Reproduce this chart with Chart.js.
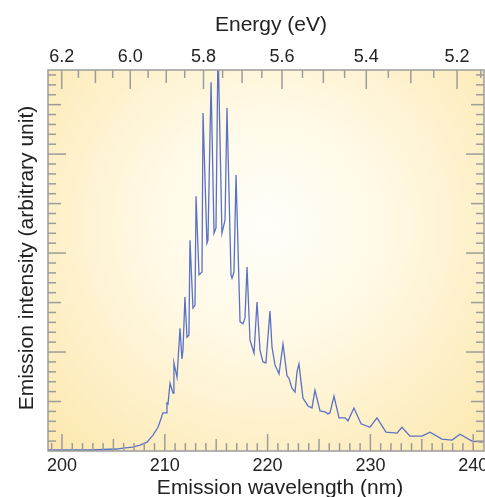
<!DOCTYPE html>
<html>
<head>
<meta charset="utf-8">
<script src="https://cdn.jsdelivr.net/npm/chart.js@4.4.0/dist/chart.umd.min.js"></script>
<style>
  html, body { margin: 0; padding: 0; background: #fff; }
</style>
</head>
<body>
<canvas id="emissionChart" width="485" height="497"></canvas>
<script>
// emission spectrum (nm, arbitrary units)
const wavelengths = [
  198.6, 200.0, 202.7, 205.35, 205.93, 206.9, 207.6, 208.27, 208.85, 209.34,
  209.53, 209.82, 210.12, 210.21, 210.31, 210.51, 210.8, 210.89, 211.19, 211.48,
  211.67, 211.77, 211.96, 212.16, 212.35, 212.45, 212.74, 212.94, 213.04, 213.33,
  213.62, 213.72, 214.1, 214.2, 214.5, 214.79, 214.98, 215.18, 215.56, 215.86,
  216.05, 216.44, 216.54, 216.73, 216.93, 217.32, 217.61, 217.8, 218.0, 218.29,
  218.68, 218.97, 219.26, 219.55, 219.84, 220.23, 220.43, 220.72, 221.11, 221.5,
  221.89, 222.08, 222.37, 222.67, 222.86, 223.05, 223.44, 223.93, 224.32, 224.61,
  225.1, 225.58, 225.88, 226.07, 226.46, 226.95, 227.53, 227.82, 228.4, 229.09,
  229.96, 230.64, 231.52, 232.59, 233.07, 233.85, 235.02, 235.8, 236.96, 237.94,
  238.72, 239.88, 240.95
];
const intensities = [
  0.02, 0.02, 0.02, 0.04, 0.06, 0.08, 0.12, 0.18, 0.32, 0.48,
  0.59, 0.77, 0.77, 0.97, 0.95, 1.37, 1.17, 1.78, 1.49, 2.48,
  1.86, 2.04, 3.11, 2.30, 2.34, 4.26, 2.89, 2.95, 5.15, 3.56,
  3.62, 6.83, 4.20, 4.26, 7.45, 4.40, 4.51, 8.20, 4.40, 4.67,
  6.93, 3.56, 3.49, 3.62, 5.58, 2.61, 2.57, 2.69, 3.72, 2.24,
  1.98, 3.01, 2.04, 1.80, 1.78, 2.83, 2.10, 1.74, 1.56, 2.16,
  1.52, 1.47, 1.27, 1.19, 1.60, 1.76, 1.07, 0.91, 0.87, 1.23,
  0.81, 0.79, 0.75, 0.77, 1.11, 0.67, 0.67, 0.61, 0.87, 0.55,
  0.48, 0.67, 0.38, 0.36, 0.48, 0.30, 0.30, 0.38, 0.24, 0.22,
  0.34, 0.20, 0.18
];
const wavelengthTicks = [200, 210, 220, 230, 240];
const energyTicks = [6.2, 6.0, 5.8, 5.6, 5.4, 5.2];

const HC = 1239.84; // eV*nm
const FONT = '"Liberation Sans", Arial, Helvetica, sans-serif';
const GREY = "#9c9c9c";

const points = wavelengths.map((w, i) => ({ x: w, y: intensities[i] }));

const backdrop = {
  id: "backdrop",
  beforeDraw(chart) {
    const { ctx, chartArea: a } = chart;
    ctx.save();
    ctx.fillStyle = "#fff";
    ctx.fillRect(0, 0, chart.width, chart.height);
    const g = ctx.createRadialGradient(268, 225, 0, 268, 225, 320);
    g.addColorStop(0, "#fffefa");
    g.addColorStop(0.35, "#fff9e6");
    g.addColorStop(1, "#fce7ab");
    ctx.fillStyle = g;
    ctx.fillRect(a.left, a.top, a.right - a.left, a.bottom - a.top);
    ctx.restore();
  },
};

// frame with inward ticks on all four sides, plus labels and titles
const frame = {
  id: "frame",
  afterDatasetsDraw(chart) {
    const { ctx, chartArea: a, scales } = chart;
    const xs = scales.x, ys = scales.y;
    ctx.save();
    ctx.strokeStyle = GREY;
    ctx.lineWidth = 1.5;

    const vtick = (px, y0, len) => {
      ctx.beginPath(); ctx.moveTo(px, y0); ctx.lineTo(px, y0 + len); ctx.stroke();
    };
    const htick = (py, x0, len) => {
      ctx.beginPath(); ctx.moveTo(x0, py); ctx.lineTo(x0 + len, py); ctx.stroke();
    };

    // bottom: wavelength, 1 nm minor
    for (let w = 199; w <= 241; w++) {
      const px = xs.getPixelForValue(w);
      if (px < a.left + 1 || px > a.right - 1) continue;
      const len = w % 10 === 0 ? 17 : (w % 5 === 0 ? 12 : 8);
      vtick(px, a.bottom, -len);
    }
    // top: energy, 0.05 eV minor
    for (let k = 103; k <= 125; k++) {
      const e = k * 0.05;
      const px = xs.getPixelForValue(HC / e);
      if (px < a.left + 1 || px > a.right - 1) continue;
      const len = k % 4 === 0 ? 19 : (k % 2 === 0 ? 13 : 8);
      vtick(px, a.top, len);
    }
    // left / right: intensity, 0.2 minor
    for (let k = 1; k <= 38; k++) {
      const py = ys.getPixelForValue(k * 0.2);
      if (py < a.top + 1) continue;
      const len = k % 10 === 0 ? 18 : (k % 5 === 0 ? 13 : 8);
      htick(py, a.left, len);
      htick(py, a.right, -len);
    }

    ctx.strokeRect(a.left, a.top, a.right - a.left, a.bottom - a.top);

    ctx.fillStyle = "#222";
    ctx.textAlign = "center";
    ctx.textBaseline = "alphabetic";
    ctx.font = "18px " + FONT;
    wavelengthTicks.forEach((w) => {
      ctx.fillText(String(w), xs.getPixelForValue(w), 471);
    });
    energyTicks.forEach((e) => {
      ctx.fillText(e.toFixed(1), xs.getPixelForValue(HC / e), 62);
    });

    ctx.font = "21px " + FONT;
    ctx.fillText("Energy (eV)", 271, 31);
    ctx.fillText("Emission wavelength (nm)", 280, 494);
    ctx.translate(33, 258);
    ctx.rotate(-Math.PI / 2);
    ctx.fillText("Emission intensity (arbitrary unit)", 0, 0);
    ctx.restore();
  },
};

const ctx = document.getElementById("emissionChart").getContext("2d");
new Chart(ctx, {
  type: "scatter",
  data: {
    datasets: [
      {
        label: "Emission",
        data: points,
        showLine: true,
        borderColor: "#5a72c6",
        borderWidth: 1.3,
        pointRadius: 0,
        tension: 0,
      },
    ],
  },
  options: {
    responsive: false,
    animation: false,
    layout: { padding: { left: 48, right: 1, top: 70, bottom: 46 } },
    plugins: {
      legend: { display: false },
      tooltip: { enabled: false },
    },
    scales: {
      x: { type: "linear", min: 198.64, max: 241.05, display: false },
      y: { type: "linear", min: 0, max: 7.7, display: false },
    },
  },
  plugins: [backdrop, frame],
});
</script>
</body>
</html>
